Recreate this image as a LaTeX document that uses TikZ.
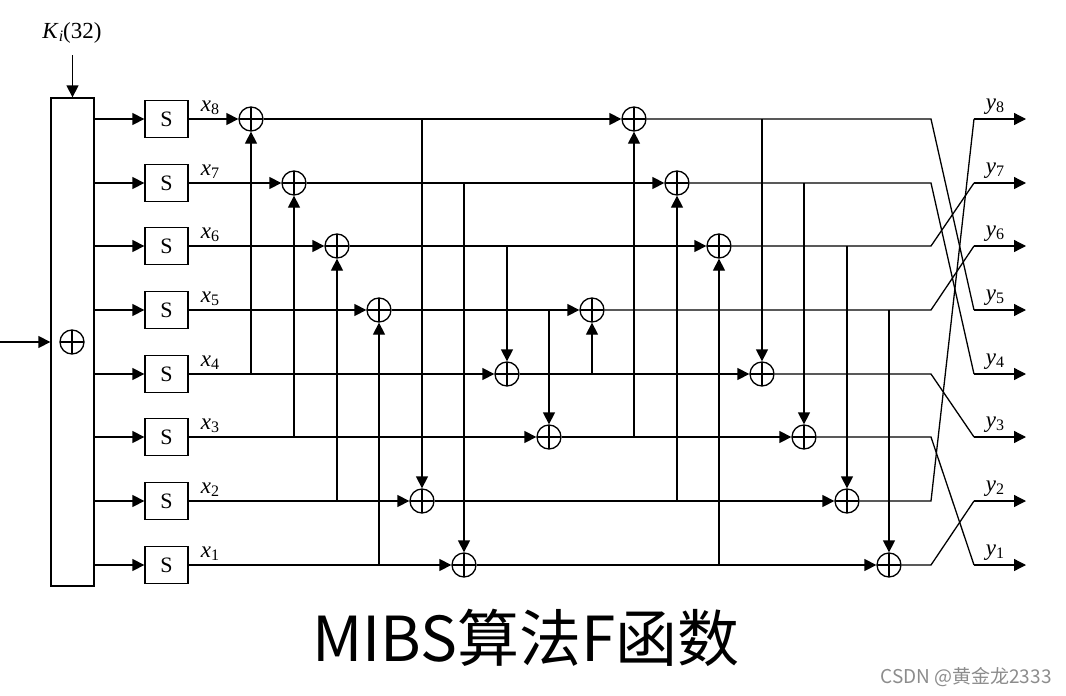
\documentclass[tikz,border=0pt]{standalone}
\usepackage{fontspec}
\setmainfont{Liberation Serif}
\newfontfamily\cjk{Noto Sans CJK SC}
\usetikzlibrary{arrows.meta}
\newcommand{\sublbl}[2]{\textit{#1}\raisebox{-0.35ex}{\fontsize{16}{16}\selectfont #2}}
\begin{document}
\begin{tikzpicture}[x=1pt,y=-1pt,
  line width=1.3pt,
  arr/.style={-{Triangle[length=12pt,width=12pt]}},
  sbox/.style={draw,rectangle,minimum width=43pt,minimum height=37pt,inner sep=0pt,font=\fontsize{22}{22}\selectfont},
  xor/.style={draw,circle,minimum size=24pt,inner sep=0pt,
    path picture={\draw (path picture bounding box.north) -- (path picture bounding box.south)
      (path picture bounding box.west) -- (path picture bounding box.east);}},
  lbl/.style={anchor=base,inner sep=0pt,font=\fontsize{23}{23}\selectfont}]
\useasboundingbox (0,0) rectangle (1066,696);
% key xor block
\node[draw,rectangle,minimum width=43pt,minimum height=488pt,inner sep=0pt] (kbox) at (72.5,342) {};
\node[xor] (kx) at (72,342) {};
\coordinate (kin) at (0,342);
\coordinate (ktop) at (72.5,55);
\draw[arr] (kin) -- (kbox.west);
\draw[arr] (ktop) -- (kbox.north);
\node[lbl] (klbl) at (72,38) {\sublbl{K}{\textit{i}}(32)};
% S boxes
\foreach \i/\y in {8/119,7/183,6/246,5/310,4/374,3/437,2/501,1/565}{
  \node[sbox] (s\i) at (166.5,\y) {S};
  \draw[arr] (kbox.east |- s\i) -- (s\i.west);
  \node[lbl] (xl\i) at (210,\y-8) {\sublbl{x}{\i}};
}
% xor nodes
\node[xor] (a8) at (251,119) {};
\node[xor] (a7) at (294,183) {};
\node[xor] (a6) at (337,246) {};
\node[xor] (a5) at (379,310) {};
\node[xor] (b2) at (422,501) {};
\node[xor] (b1) at (464,565) {};
\node[xor] (b4) at (507,374) {};
\node[xor] (b3) at (549,437) {};
\node[xor] (c5) at (592,310) {};
\node[xor] (c8) at (634,119) {};
\node[xor] (c7) at (677,183) {};
\node[xor] (c6) at (719,246) {};
\node[xor] (d4) at (762,374) {};
\node[xor] (d3) at (804,437) {};
\node[xor] (d2) at (847,501) {};
\node[xor] (d1) at (889,565) {};
% permutation coordinates
\foreach \i/\y in {8/119,7/183,6/246,5/310,4/374,3/437,2/501,1/565}{
  \coordinate (p\i) at (931,\y);
  \coordinate (q\i) at (974,\y);
  \coordinate (o\i) at (1026,\y);
  \node[lbl] (yl\i) at (995,\y-10) {\sublbl{y}{\i}};
}
% rows
\draw[arr] (s8) -- (a8); \draw[arr] (a8) -- (c8); \draw (c8) -- (p8) -- (q5);
\draw[arr] (s7) -- (a7); \draw[arr] (a7) -- (c7); \draw (c7) -- (p7) -- (q4);
\draw[arr] (s6) -- (a6); \draw[arr] (a6) -- (c6); \draw (c6) -- (p6) -- (q7);
\draw[arr] (s5) -- (a5); \draw[arr] (a5) -- (c5); \draw (c5) -- (p5) -- (q6);
\draw[arr] (s4) -- (b4); \draw[arr] (b4) -- (d4); \draw (d4) -- (p4) -- (q3);
\draw[arr] (s3) -- (b3); \draw[arr] (b3) -- (d3); \draw (d3) -- (p3) -- (q1);
\draw[arr] (s2) -- (b2); \draw[arr] (b2) -- (d2); \draw (d2) -- (p2) -- (q8);
\draw[arr] (s1) -- (b1); \draw[arr] (b1) -- (d1); \draw (d1) -- (p1) -- (q2);
\foreach \i in {1,...,8}{ \draw[arr] (q\i) -- (o\i); }
% verticals
\draw[arr] (a8 |- s4) -- (a8);
\draw[arr] (a7 |- s3) -- (a7);
\draw[arr] (a6 |- s2) -- (a6);
\draw[arr] (a5 |- s1) -- (a5);
\draw[arr] (b2 |- s8) -- (b2);
\draw[arr] (b1 |- s7) -- (b1);
\draw[arr] (b4 |- s6) -- (b4);
\draw[arr] (b3 |- s5) -- (b3);
\draw[arr] (c5 |- s4) -- (c5);
\draw[arr] (c8 |- s3) -- (c8);
\draw[arr] (c7 |- s2) -- (c7);
\draw[arr] (c6 |- s1) -- (c6);
\draw[arr] (d4 |- s8) -- (d4);
\draw[arr] (d3 |- s7) -- (d3);
\draw[arr] (d2 |- s6) -- (d2);
\draw[arr] (d1 |- s5) -- (d1);
% title and watermark
\node[inner sep=0pt] (title) at (526,638) {\cjk\fontsize{62}{62}\selectfont MIBS算法F函数};
\node[inner sep=0pt,text=black!45] (wm) at (966,677) {\cjk\fontsize{19}{19}\selectfont CSDN @黄金龙2333};
\end{tikzpicture}
\end{document}
